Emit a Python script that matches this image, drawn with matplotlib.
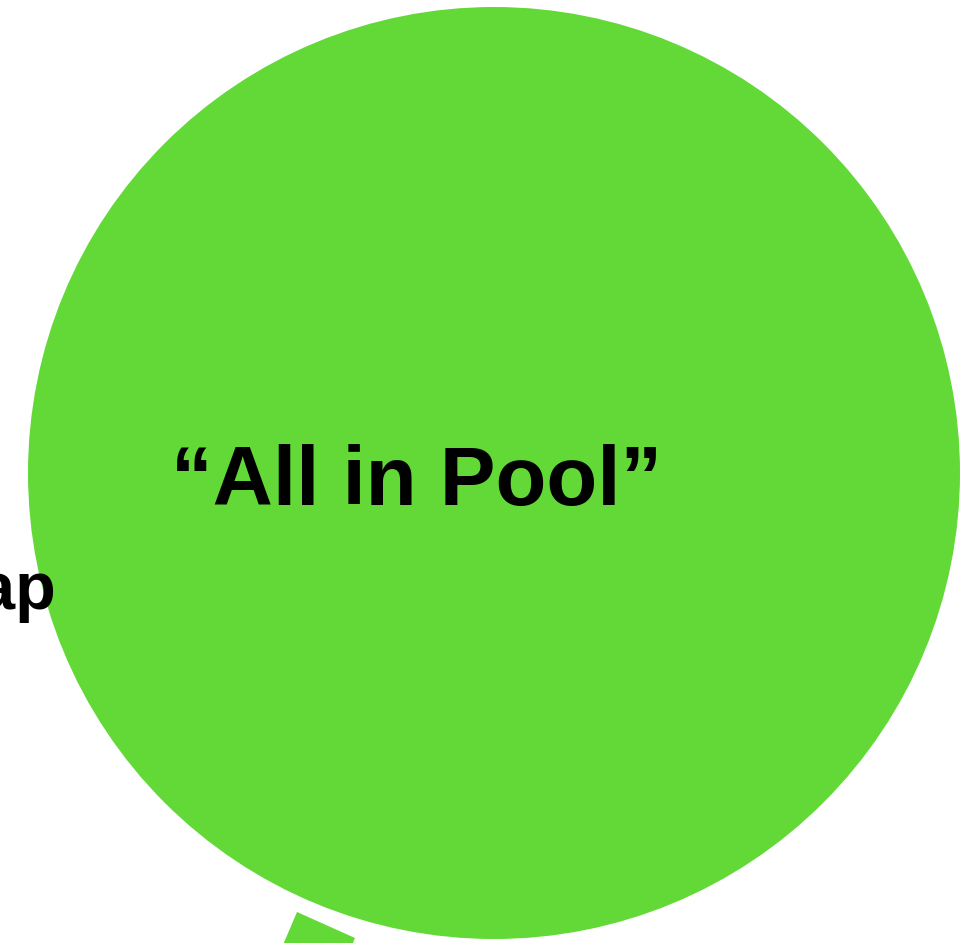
import matplotlib.pyplot as plt
from matplotlib.patches import Circle, Polygon

# bubble (pixel coords of the cropped view)
bubble_labels = ['\u201cAll in Pool\u201d']
bubble_x = [494]
bubble_y = [473]
bubble_r = [466]
label_x = [417]
label_y = [483]

# side label cut off by the frame
side_label = 'ap'
side_x = 56
side_y = 592

# connector bar poking in at the bottom
bar_x = [297, 355, 335, 277]
bar_y = [912, 938, 985, 959]

GREEN = '#62d937'

fig = plt.figure(figsize=(9.73, 9.43), dpi=100)
ax = fig.add_axes([0, 0, 1, 1])
ax.set_xlim(0, 973)
ax.set_ylim(943, 0)
ax.axis('off')

for x, y, r in zip(bubble_x, bubble_y, bubble_r):
    ax.add_patch(Circle((x, y), r, color=GREEN, lw=0))

ax.add_patch(Polygon(list(zip(bar_x, bar_y)), closed=True, color=GREEN, lw=0))

for lab, x, y in zip(bubble_labels, label_x, label_y):
    ax.text(x, y, lab, ha='center', va='center', fontsize=60,
            fontweight='bold', family='Liberation Sans')

ax.text(side_x, side_y, side_label, ha='right', va='center', fontsize=48,
        fontweight='bold', family='Liberation Sans', zorder=5)

fig.savefig('out.png', dpi=100)
